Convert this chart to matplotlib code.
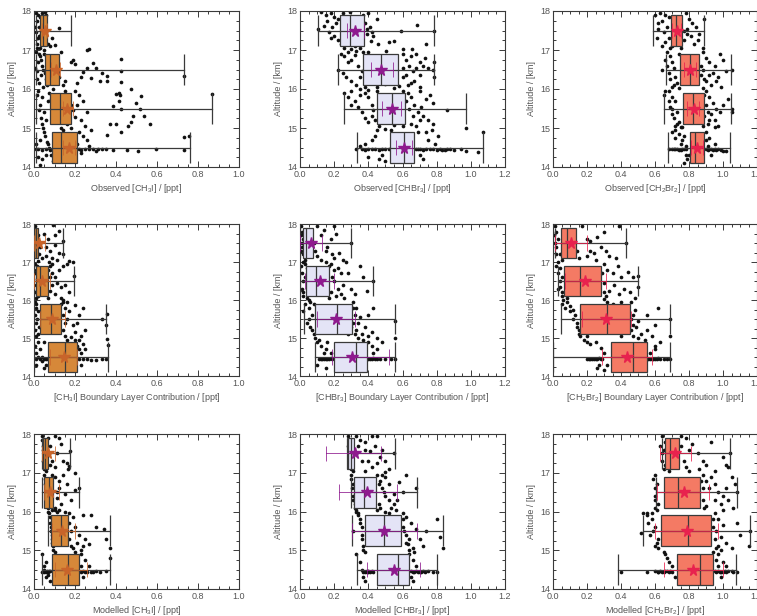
import matplotlib

matplotlib.use("Agg")
import matplotlib.pyplot as plt
from matplotlib.patches import Rectangle
from matplotlib.ticker import MultipleLocator

plt.rcParams["font.family"] = ["Liberation Sans", "DejaVu Sans"]
plt.rcParams["mathtext.fontset"] = "custom"
plt.rcParams["mathtext.rm"] = "Liberation Sans"
plt.rcParams["mathtext.it"] = "Liberation Sans"

# altitude bin centres (km)
ALT = [14.5, 15.5, 16.5, 17.5]

# box statistics per bin (order follows ALT): quartiles, whisker ends, mean, mean +/- spread
OBS_CH3I = dict(q25=[0.086, 0.076, 0.054, 0.030], med=[0.130, 0.127, 0.078, 0.045],
                q75=[0.211, 0.182, 0.124, 0.065], wlo=[0.01, 0.01, 0.01, 0.01],
                whi=[0.760, 0.867, 0.732, 0.180], mean=[0.170, 0.163, 0.105, 0.052],
                elo=[0.14, 0.14, 0.085, 0.04], ehi=[0.20, 0.19, 0.125, 0.065])
OBS_CHBR3 = dict(q25=[0.524, 0.449, 0.366, 0.233], med=[0.609, 0.538, 0.474, 0.293],
                 q75=[0.666, 0.613, 0.573, 0.372], wlo=[0.332, 0.257, 0.221, 0.105],
                 whi=[1.072, 0.973, 0.785, 0.785], mean=[0.610, 0.538, 0.474, 0.322],
                 elo=[0.56, 0.48, 0.415, 0.277], ehi=[0.653, 0.594, 0.545, 0.376])
OBS_CH2BR2 = dict(q25=[0.803, 0.764, 0.748, 0.693], med=[0.837, 0.823, 0.803, 0.724],
                  q75=[0.886, 0.886, 0.860, 0.758], wlo=[0.679, 0.655, 0.663, 0.587],
                  whi=[1.040, 1.047, 1.047, 0.890], mean=[0.846, 0.827, 0.807, 0.728],
                  elo=[0.81, 0.79, 0.77, 0.70], ehi=[0.88, 0.86, 0.84, 0.755])
BL_CH3I = dict(q25=[0.066, 0.028, 0.008, 0.0], med=[0.151, 0.085, 0.028, 0.008],
               q75=[0.212, 0.130, 0.069, 0.020], wlo=[0.0, 0.0, 0.0, 0.0],
               whi=[0.361, 0.353, 0.195, 0.143], mean=[0.146, 0.090, 0.041, 0.025],
               elo=[0.08, 0.03, 0.0, 0.0], ehi=[0.21, 0.15, 0.08, 0.055])
BL_CHBR3 = dict(q25=[0.198, 0.089, 0.036, 0.020], med=[0.326, 0.217, 0.095, 0.036],
                q75=[0.395, 0.306, 0.168, 0.075], wlo=[0.085, 0.026, 0.0, 0.0],
                whi=[0.554, 0.554, 0.425, 0.300], mean=[0.306, 0.212, 0.115, 0.063],
                elo=[0.19, 0.10, 0.03, 0.0], ehi=[0.52, 0.32, 0.20, 0.13])
BL_CH2BR2 = dict(q25=[0.341, 0.157, 0.063, 0.045], med=[0.472, 0.315, 0.157, 0.085],
                 q75=[0.551, 0.453, 0.281, 0.134], wlo=[0.0, 0.049, 0.03, 0.01],
                 whi=[0.689, 0.689, 0.502, 0.429], mean=[0.433, 0.311, 0.187, 0.104],
                 elo=[0.29, 0.17, 0.07, 0.01], ehi=[0.58, 0.46, 0.31, 0.20])
MOD_CH3I = dict(q25=[0.090, 0.085, 0.049, 0.044], med=[0.167, 0.130, 0.072, 0.055],
                q75=[0.220, 0.167, 0.094, 0.069], wlo=[0.041, 0.07, 0.04, 0.04],
                whi=[0.369, 0.373, 0.220, 0.176], mean=[0.163, 0.135, 0.077, 0.069],
                elo=[0.10, 0.09, 0.05, 0.04], ehi=[0.26, 0.20, 0.12, 0.10])
MOD_CHBR3 = dict(q25=[0.449, 0.380, 0.316, 0.277], med=[0.573, 0.494, 0.372, 0.297],
                 q75=[0.637, 0.589, 0.445, 0.316], wlo=[0.332, 0.306, 0.30, 0.28],
                 whi=[0.800, 0.840, 0.682, 0.554], mean=[0.550, 0.494, 0.390, 0.320],
                 elo=[0.39, 0.307, 0.228, 0.154], ehi=[0.70, 0.683, 0.57, 0.475])
MOD_CH2BR2 = dict(q25=[0.728, 0.634, 0.650, 0.656], med=[0.866, 0.797, 0.738, 0.689],
                  q75=[0.939, 0.929, 0.862, 0.744], wlo=[0.384, 0.528, 0.606, 0.64],
                  whi=[1.079, 1.161, 1.083, 1.040], mean=[0.823, 0.787, 0.768, 0.719],
                  elo=[0.65, 0.60, 0.61, 0.63], ehi=[1.00, 0.97, 0.915, 0.811])

# individual samples (mixing ratio ppt, altitude km)
PTS_OBS_CH3I = [
    (0.01, 17.95), (0.02, 17.9), (0.03, 17.85), (0.015, 17.75), (0.04, 17.7), (0.025, 17.6),
    (0.05, 17.55), (0.01, 17.45), (0.035, 17.4), (0.06, 17.35), (0.02, 17.3), (0.045, 17.2),
    (0.07, 17.15), (0.03, 17.05), (0.08, 17.1), (0.12, 17.57), (0.09, 17.3), (0.1, 17.12),
    (0.06, 17.9), (0.055, 17.98), (0.01, 16.95), (0.03, 16.85), (0.05, 16.9), (0.02, 16.7),
    (0.04, 16.6), (0.015, 16.45), (0.035, 16.35), (0.06, 16.25), (0.025, 16.15), (0.045, 16.05),
    (0.13, 16.95), (0.14, 16.1), (0.15, 16.2), (0.19, 16.75), (0.18, 16.69), (0.2, 16.63),
    (0.26, 17.0), (0.27, 17.02), (0.24, 16.44), (0.26, 16.55), (0.21, 16.15), (0.23, 16.3),
    (0.29, 16.66), (0.3, 16.55), (0.33, 16.42), (0.355, 16.33), (0.32, 16.21), (0.358, 16.2),
    (0.277, 16.27), (0.426, 16.77), (0.426, 16.47), (0.426, 16.19), (0.732, 16.33),
    (0.02, 15.95), (0.04, 15.8), (0.03, 15.6), (0.05, 15.4), (0.06, 15.2), (0.04, 15.1),
    (0.07, 15.7), (0.2, 15.95), (0.22, 15.85), (0.24, 15.7), (0.21, 15.6), (0.26, 15.4),
    (0.23, 15.2), (0.2, 15.28), (0.25, 15.05), (0.19, 15.45), (0.475, 16.0), (0.4, 15.88),
    (0.415, 15.9), (0.42, 15.85), (0.52, 15.82), (0.415, 15.69), (0.496, 15.63), (0.387, 15.57),
    (0.517, 15.49), (0.426, 15.49), (0.485, 15.32), (0.537, 15.3), (0.473, 15.15), (0.459, 15.06),
    (0.566, 15.09), (0.37, 15.1), (0.4, 15.1), (0.867, 15.88), (0.426, 14.89), (0.277, 14.94),
    (0.358, 14.81), (0.732, 14.77), (0.758, 14.79), (0.22, 14.9), (0.24, 14.8), (0.26, 14.7),
    (0.21, 14.6), (0.05, 14.9), (0.03, 14.7), (0.06, 14.3), (0.04, 14.2), (0.07, 14.6),
    (0.02, 14.45), (0.04, 14.43), (0.06, 14.46), (0.08, 14.44), (0.22, 14.45), (0.25, 14.46),
    (0.29, 14.47), (0.31, 14.45), (0.33, 14.46), (0.35, 14.45), (0.387, 14.44), (0.455, 14.43),
    (0.507, 14.42), (0.594, 14.45), (0.732, 14.44), (0.3, 14.42), (0.27, 14.55),
    (0.005, 17.6), (0.015, 17.15), (0.025, 16.9), (0.035, 16.75), (0.045, 16.5), (0.055, 16.4),
    (0.065, 16.1), (0.075, 15.9), (0.085, 15.75), (0.095, 15.65), (0.1, 15.5), (0.11, 15.35),
    (0.12, 15.2), (0.13, 15.0), (0.14, 14.95), (0.015, 15.85), (0.025, 15.45), (0.035, 15.25),
    (0.045, 15.0), (0.055, 14.8), (0.065, 14.65), (0.075, 14.5), (0.085, 14.3), (0.095, 14.15),
    (0.01, 14.6), (0.02, 14.25), (0.03, 14.05), (0.015, 16.25), (0.005, 16.55), (0.04, 17.95),
    (0.025, 17.35), (0.015, 17.05), (0.05, 17.0), (0.1, 14.45), (0.12, 14.46), (0.14, 14.44),
    (0.16, 14.45), (0.18, 14.46), (0.2, 14.44), (0.01, 14.47), (0.23, 14.43), (0.27, 14.45),
    (0.11, 16.5), (0.12, 16.3), (0.095, 16.0), (0.15, 15.95), (0.17, 15.8), (0.18, 15.6),
    (0.16, 15.1), (0.18, 15.0), (0.2, 14.7), (0.23, 14.35), (0.17, 14.3), (0.19, 14.2),
]
PTS_OBS_CHBR3 = [
    (0.12, 17.98), (0.15, 17.9), (0.18, 17.95), (0.2, 17.85), (0.16, 17.75), (0.14, 17.62),
    (0.103, 17.55), (0.19, 17.6), (0.21, 17.7), (0.17, 17.45), (0.2, 17.35), (0.22, 17.25),
    (0.24, 17.15), (0.26, 17.05), (0.18, 17.3), (0.4, 17.95), (0.41, 17.59), (0.45, 17.8),
    (0.59, 17.5), (0.683, 17.64), (0.39, 17.4), (0.416, 17.24), (0.455, 17.16), (0.52, 17.2),
    (0.55, 17.22), (0.505, 16.98), (0.737, 17.16), (0.653, 17.03), (0.785, 17.5), (0.32, 17.1),
    (0.35, 17.05), (0.43, 17.35), (0.37, 17.9), (0.29, 17.98), (0.24, 16.9), (0.26, 16.85),
    (0.28, 16.7), (0.3, 16.75), (0.32, 16.88), (0.34, 16.6), (0.22, 16.5), (0.25, 16.4),
    (0.27, 16.3), (0.3, 16.2), (0.33, 16.1), (0.35, 16.3), (0.36, 16.45), (0.6, 16.9),
    (0.62, 16.75), (0.64, 16.6), (0.66, 16.45), (0.68, 16.55), (0.7, 16.35), (0.73, 16.8),
    (0.75, 16.55), (0.78, 16.5), (0.785, 16.7), (0.785, 16.3), (0.67, 16.2), (0.63, 16.1),
    (0.6, 16.3), (0.45, 16.05), (0.55, 16.02), (0.5, 16.12), (0.257, 15.9), (0.28, 15.8),
    (0.3, 15.6), (0.32, 15.7), (0.34, 15.55), (0.36, 15.4), (0.38, 15.25), (0.4, 15.15),
    (0.42, 15.3), (0.3, 15.95), (0.35, 15.85), (0.38, 15.9), (0.63, 15.9), (0.65, 15.8),
    (0.67, 15.6), (0.69, 15.4), (0.71, 15.55), (0.74, 15.75), (0.76, 15.85), (0.78, 15.65),
    (0.7, 15.2), (0.72, 15.3), (0.69, 14.9), (0.81, 14.8), (0.863, 15.45), (0.974, 15.0),
    (0.6, 15.05), (0.55, 15.08), (0.33, 14.46), (0.36, 14.45), (0.38, 14.44), (0.4, 14.46),
    (0.42, 14.45), (0.44, 14.47), (0.46, 14.44), (0.48, 14.45), (0.5, 14.46), (0.7, 14.46),
    (0.72, 14.44), (0.74, 14.45), (0.76, 14.47), (0.78, 14.45), (0.8, 14.43), (0.83, 14.44),
    (0.86, 14.46), (0.9, 14.43), (0.97, 14.4), (1.04, 14.38), (1.073, 14.9), (0.46, 14.2),
    (0.48, 14.3), (0.5, 14.15), (0.42, 14.7), (0.44, 14.8), (0.75, 14.7), (0.79, 14.6),
    (0.22, 17.8), (0.25, 17.95), (0.27, 17.65), (0.38, 17.7), (0.39, 17.55), (0.42, 17.45),
    (0.36, 17.2), (0.3, 17.02), (0.28, 16.95), (0.33, 16.98), (0.37, 16.95), (0.4, 16.95),
    (0.6, 17.02), (0.65, 16.85), (0.68, 16.9), (0.7, 16.7), (0.72, 16.6), (0.6, 16.55),
    (0.62, 16.35), (0.65, 16.15), (0.7, 16.05), (0.58, 16.08), (0.38, 16.05), (0.35, 16.0),
    (0.4, 15.98), (0.45, 15.95), (0.6, 15.95), (0.7, 15.95), (0.62, 15.7), (0.64, 15.5),
    (0.66, 15.3), (0.65, 15.1), (0.68, 15.05), (0.75, 15.2), (0.78, 15.1), (0.4, 15.8),
    (0.42, 15.6), (0.43, 15.45), (0.44, 15.2), (0.46, 15.05), (0.5, 14.98), (0.53, 14.95),
    (0.45, 14.95), (0.38, 14.6), (0.4, 14.25), (0.35, 14.55), (0.52, 14.46), (0.54, 14.45),
    (0.68, 14.45), (0.69, 14.47), (0.82, 14.47), (0.85, 14.43), (0.88, 14.45), (0.94, 14.46),
    (0.7, 14.3), (0.72, 14.2), (0.74, 14.9), (0.77, 14.95),
]
PTS_OBS_CH2BR2 = [
    (0.63, 17.95), (0.66, 17.9), (0.68, 17.85), (0.64, 17.75), (0.67, 17.6), (0.65, 17.45),
    (0.62, 17.55), (0.68, 17.3), (0.66, 17.2), (0.7, 17.1), (0.78, 17.95), (0.8, 17.8),
    (0.82, 17.7), (0.79, 17.55), (0.84, 17.6), (0.81, 17.35), (0.77, 17.25), (0.83, 17.15),
    (0.86, 17.4), (0.89, 17.8), (0.69, 17.05), (0.75, 17.05), (0.67, 16.95), (0.69, 16.85),
    (0.7, 16.7), (0.71, 16.55), (0.68, 16.4), (0.72, 16.3), (0.73, 16.15), (0.7, 16.05),
    (0.74, 16.9), (0.88, 16.95), (0.9, 16.8), (0.92, 16.7), (0.95, 16.6), (0.98, 16.9),
    (1.0, 16.75), (0.94, 16.4), (0.97, 16.3), (1.02, 16.45), (1.05, 16.5), (0.9, 16.2),
    (0.93, 16.1), (0.99, 16.05), (0.87, 16.35), (0.64, 16.5), (0.655, 15.85), (0.68, 15.95),
    (0.7, 15.8), (0.72, 15.7), (0.69, 15.55), (0.73, 15.4), (0.71, 15.25), (0.74, 15.15),
    (0.72, 15.05), (0.9, 15.95), (0.92, 15.8), (0.94, 15.65), (0.96, 15.5), (0.93, 15.35),
    (0.95, 15.2), (0.98, 15.4), (1.0, 15.6), (1.03, 15.75), (1.05, 15.5), (1.05, 15.4),
    (0.91, 15.1), (0.97, 15.05), (0.76, 15.02), (0.88, 15.05), (0.7, 14.9), (0.72, 14.75),
    (0.75, 14.6), (0.77, 14.8), (0.9, 14.9), (0.92, 14.75), (0.95, 14.6), (0.68, 14.46),
    (0.7, 14.45), (0.72, 14.47), (0.74, 14.44), (0.76, 14.46), (0.78, 14.45), (0.9, 14.46),
    (0.92, 14.45), (0.94, 14.44), (0.97, 14.46), (1.0, 14.4), (1.02, 14.42), (0.79, 14.2),
    (0.8, 14.3), (0.93, 14.3),
    (0.6, 17.9), (0.62, 17.7), (0.61, 17.3), (0.64, 17.1), (0.77, 17.5), (0.79, 17.4),
    (0.85, 17.25), (0.88, 17.05), (0.66, 16.75), (0.67, 16.6), (0.69, 16.25), (0.71, 16.1),
    (0.74, 16.02), (0.87, 16.6), (0.88, 16.5), (0.89, 16.25), (0.92, 16.35), (0.96, 16.2),
    (0.88, 16.02), (0.66, 15.95), (0.68, 15.7), (0.7, 15.5), (0.7, 15.35), (0.73, 15.1),
    (0.75, 15.03), (0.89, 15.85), (0.9, 15.6), (0.91, 15.4), (0.92, 15.2), (0.89, 15.3),
    (0.95, 15.02), (0.72, 14.95), (0.74, 14.85), (0.76, 14.7), (0.78, 14.55), (0.9, 14.7),
    (0.91, 14.55), (0.71, 14.46), (0.73, 14.45), (0.75, 14.44), (0.77, 14.47), (0.91, 14.44),
    (0.93, 14.47), (0.95, 14.45), (0.96, 14.43), (0.99, 14.44), (0.78, 14.3), (0.77, 14.1),
]
PTS_BL_CH3I = [
    (0.005, 17.95), (0.01, 17.8), (0.02, 17.7), (0.015, 17.55), (0.03, 17.4), (0.01, 17.3),
    (0.025, 17.2), (0.04, 17.1), (0.02, 17.02), (0.05, 17.75), (0.094, 17.97), (0.123, 17.82),
    (0.07, 17.6), (0.1, 17.45), (0.08, 17.3), (0.12, 17.25), (0.14, 17.22), (0.17, 17.02),
    (0.16, 16.95), (0.19, 17.0), (0.06, 17.15), (0.09, 17.1), (0.143, 17.55), (0.005, 16.95),
    (0.01, 16.8), (0.02, 16.6), (0.01, 16.4), (0.03, 16.25), (0.02, 16.1), (0.08, 16.9),
    (0.09, 16.7), (0.1, 16.6), (0.12, 16.8), (0.11, 16.45), (0.13, 16.35), (0.08, 16.25),
    (0.1, 16.15), (0.07, 16.05), (0.15, 16.4), (0.14, 16.9), (0.195, 16.62), (0.17, 16.2),
    (0.06, 16.5), (0.01, 15.9), (0.02, 15.7), (0.015, 15.5), (0.025, 15.3), (0.02, 15.1),
    (0.14, 15.95), (0.15, 15.8), (0.17, 15.7), (0.2, 15.88), (0.16, 15.5), (0.19, 15.35),
    (0.22, 15.6), (0.24, 15.8), (0.2, 15.15), (0.23, 15.05), (0.25, 15.2), (0.18, 15.02),
    (0.33, 15.5), (0.356, 15.62), (0.35, 15.33), (0.21, 15.4), (0.02, 14.9), (0.03, 14.7),
    (0.01, 14.3), (0.05, 14.2), (0.356, 14.98), (0.36, 14.82), (0.22, 14.95), (0.24, 14.85),
    (0.25, 14.7), (0.23, 14.6), (0.03, 14.45), (0.05, 14.44), (0.06, 14.46), (0.07, 14.45),
    (0.22, 14.46), (0.24, 14.45), (0.26, 14.44), (0.28, 14.42), (0.3, 14.43), (0.33, 14.45),
    (0.35, 14.46), (0.04, 14.5), (0.04, 14.4),
    (0.005, 17.5), (0.01, 17.6), (0.005, 17.15), (0.015, 16.9), (0.005, 16.7), (0.015, 16.55),
    (0.005, 16.2), (0.01, 16.05), (0.005, 15.95), (0.01, 15.8), (0.005, 15.6), (0.01, 15.4),
    (0.005, 15.2), (0.01, 15.05), (0.005, 14.8), (0.01, 14.6), (0.02, 14.5), (0.01, 14.45),
    (0.08, 14.45), (0.1, 14.46), (0.12, 14.44), (0.14, 14.45), (0.16, 14.46), (0.18, 14.45),
    (0.2, 14.44), (0.07, 16.8), (0.08, 16.6), (0.09, 16.4), (0.075, 17.0), (0.09, 16.95),
    (0.13, 16.05), (0.14, 16.0), (0.16, 15.95), (0.13, 15.9), (0.14, 15.6), (0.15, 15.4),
    (0.14, 15.2), (0.15, 15.05), (0.16, 14.95), (0.2, 14.95), (0.21, 14.8), (0.22, 14.7),
    (0.23, 14.3), (0.06, 14.3), (0.05, 14.9), (0.1, 17.7), (0.06, 17.4), (0.11, 17.05),
]
PTS_BL_CHBR3 = [
    (0.005, 17.95), (0.01, 17.8), (0.02, 17.6), (0.01, 17.4), (0.02, 17.2), (0.03, 17.05),
    (0.1, 17.95), (0.12, 17.7), (0.14, 17.85), (0.2, 17.95), (0.18, 17.6), (0.16, 17.4),
    (0.15, 17.3), (0.19, 17.2), (0.2, 17.1), (0.23, 17.25), (0.25, 17.05), (0.27, 17.0),
    (0.3, 17.5), (0.1, 17.15), (0.21, 17.75), (0.005, 16.9), (0.01, 16.7), (0.02, 16.5),
    (0.01, 16.3), (0.02, 16.1), (0.18, 16.95), (0.2, 16.8), (0.22, 16.85), (0.24, 16.7),
    (0.2, 16.5), (0.25, 16.4), (0.22, 16.3), (0.24, 16.15), (0.26, 16.05), (0.3, 16.3),
    (0.32, 16.15), (0.35, 16.9), (0.37, 16.6), (0.425, 16.5), (0.39, 16.25), (0.28, 16.7),
    (0.03, 15.9), (0.05, 15.8), (0.07, 15.6), (0.04, 15.4), (0.06, 15.3), (0.08, 15.1),
    (0.31, 15.95), (0.33, 15.8), (0.32, 15.6), (0.34, 15.4), (0.33, 15.2), (0.36, 15.1),
    (0.38, 15.3), (0.4, 15.05), (0.42, 15.15), (0.45, 15.0), (0.4, 15.6), (0.43, 15.8),
    (0.554, 15.45), (0.554, 15.0), (0.35, 15.55), (0.28, 15.1), (0.1, 14.9), (0.12, 14.8),
    (0.15, 14.7), (0.18, 14.6), (0.12, 14.46), (0.14, 14.45), (0.15, 14.44), (0.16, 14.46),
    (0.17, 14.45), (0.4, 14.46), (0.42, 14.44), (0.44, 14.45), (0.5, 14.46), (0.53, 14.45),
    (0.554, 14.45), (0.15, 14.2), (0.1, 14.3), (0.45, 14.7), (0.48, 14.9),
    (0.005, 17.7), (0.01, 17.5), (0.005, 17.3), (0.02, 17.0), (0.03, 16.95), (0.04, 16.85),
    (0.03, 16.6), (0.02, 16.2), (0.04, 16.05), (0.05, 16.0), (0.06, 15.95), (0.08, 15.9),
    (0.02, 15.7), (0.05, 15.5), (0.07, 15.2), (0.09, 15.0), (0.11, 14.95), (0.08, 17.5),
    (0.09, 17.3), (0.12, 17.05), (0.15, 17.0), (0.17, 16.9), (0.19, 16.6), (0.18, 16.2),
    (0.17, 16.05), (0.21, 16.1), (0.31, 15.8), (0.31, 15.4), (0.32, 15.1), (0.34, 15.0),
    (0.37, 14.95), (0.3, 15.3), (0.13, 14.45), (0.11, 14.44), (0.18, 14.47), (0.19, 14.45),
    (0.41, 14.45), (0.43, 14.47), (0.45, 14.44), (0.47, 14.46), (0.16, 14.9), (0.14, 14.6),
    (0.4, 14.9), (0.42, 14.8), (0.43, 14.6),
]
PTS_BL_CH2BR2 = [
    (0.01, 17.95), (0.02, 17.8), (0.03, 17.6), (0.02, 17.4), (0.04, 17.2), (0.05, 17.05),
    (0.17, 17.95), (0.2, 17.6), (0.22, 17.55), (0.26, 17.65), (0.3, 17.8), (0.28, 17.4),
    (0.31, 17.3), (0.24, 17.25), (0.2, 17.15), (0.33, 17.15), (0.37, 17.1), (0.39, 17.95),
    (0.43, 17.5), (0.25, 17.05), (0.15, 17.1), (0.02, 16.9), (0.03, 16.7), (0.04, 16.5),
    (0.03, 16.3), (0.05, 16.1), (0.3, 16.95), (0.32, 16.8), (0.35, 16.7), (0.38, 16.9),
    (0.4, 16.6), (0.44, 16.75), (0.47, 16.6), (0.5, 16.62), (0.36, 16.4), (0.42, 16.3),
    (0.45, 16.2), (0.48, 16.05), (0.39, 16.15), (0.33, 16.25), (0.31, 16.1), (0.5, 16.35),
    (0.08, 16.05), (0.05, 15.9), (0.07, 15.8), (0.1, 15.7), (0.12, 15.5), (0.14, 15.3),
    (0.15, 15.1), (0.46, 15.95), (0.48, 15.75), (0.47, 15.6), (0.5, 15.45), (0.49, 15.3),
    (0.52, 15.1), (0.55, 15.2), (0.58, 15.05), (0.6, 15.35), (0.55, 15.6), (0.62, 15.8),
    (0.689, 15.5), (0.689, 15.05), (0.4, 15.05), (0.2, 15.05), (0.25, 14.9), (0.28, 14.75),
    (0.3, 14.6), (0.32, 14.3), (0.3, 14.15), (0.2, 14.46), (0.22, 14.45), (0.24, 14.44),
    (0.26, 14.46), (0.28, 14.45), (0.56, 14.46), (0.58, 14.44), (0.6, 14.45), (0.62, 14.47),
    (0.65, 14.46), (0.689, 14.45), (0.6, 14.8), (0.63, 14.9), (0.57, 14.6),
    (0.005, 17.7), (0.01, 17.5), (0.02, 17.2), (0.03, 17.0), (0.04, 16.85), (0.05, 16.6),
    (0.04, 16.35), (0.05, 16.2), (0.06, 16.0), (0.08, 15.95), (0.1, 15.85), (0.12, 15.75),
    (0.13, 15.6), (0.14, 15.4), (0.15, 15.2), (0.16, 15.05), (0.18, 14.95), (0.2, 14.9),
    (0.22, 14.85), (0.29, 16.7), (0.3, 16.45), (0.3, 16.2), (0.3, 16.02), (0.32, 15.95),
    (0.35, 15.9), (0.4, 15.95), (0.46, 15.5), (0.47, 15.35), (0.46, 15.2), (0.47, 15.05),
    (0.5, 15.0), (0.54, 14.95), (0.21, 14.45), (0.23, 14.44), (0.25, 14.46), (0.27, 14.47),
    (0.29, 14.44), (0.57, 14.45), (0.59, 14.46), (0.61, 14.44), (0.63, 14.45), (0.67, 14.44),
    (0.27, 14.3), (0.26, 14.2), (0.6, 14.7), (0.14, 17.3), (0.22, 17.3),
]
PTS_MOD_CH3I = [
    (0.04, 17.95), (0.05, 17.8), (0.045, 17.6), (0.05, 17.4), (0.055, 17.2), (0.06, 17.05),
    (0.07, 17.9), (0.08, 17.7), (0.1, 17.95), (0.12, 17.9), (0.13, 17.75), (0.11, 17.5),
    (0.14, 17.3), (0.16, 17.25), (0.176, 17.55), (0.165, 17.1), (0.17, 17.18), (0.09, 17.3),
    (0.1, 17.15), (0.05, 16.95), (0.055, 16.7), (0.06, 16.5), (0.065, 16.3), (0.07, 16.1),
    (0.1, 16.9), (0.12, 16.8), (0.14, 16.95), (0.12, 16.6), (0.15, 16.45), (0.11, 16.35),
    (0.13, 16.2), (0.1, 16.05), (0.2, 16.55), (0.22, 16.6), (0.2, 17.0), (0.16, 16.7),
    (0.18, 16.3), (0.075, 15.95), (0.08, 15.7), (0.085, 15.5), (0.09, 15.3), (0.095, 15.1),
    (0.17, 15.95), (0.19, 15.85), (0.24, 15.9), (0.28, 15.9), (0.2, 15.6), (0.22, 15.4),
    (0.25, 15.3), (0.24, 15.1), (0.27, 15.15), (0.21, 15.2), (0.23, 15.0), (0.34, 15.55),
    (0.35, 15.3), (0.37, 15.05), (0.3, 15.6), (0.04, 14.9), (0.05, 14.6), (0.06, 14.3),
    (0.08, 14.2), (0.23, 14.9), (0.25, 14.75), (0.27, 14.6), (0.26, 14.45), (0.28, 14.44),
    (0.3, 14.46), (0.32, 14.45), (0.35, 14.46), (0.37, 14.8), (0.06, 14.45), (0.07, 14.44),
    (0.08, 14.46), (0.05, 14.5), (0.07, 14.35),
    (0.04, 17.85), (0.045, 17.7), (0.05, 17.5), (0.045, 17.3), (0.05, 17.1), (0.055, 16.85),
    (0.06, 16.6), (0.065, 16.4), (0.065, 16.2), (0.07, 16.0), (0.08, 15.85), (0.085, 15.6),
    (0.09, 15.4), (0.09, 15.2), (0.095, 15.0), (0.1, 14.95), (0.09, 16.05), (0.1, 16.1),
    (0.11, 16.0), (0.12, 16.05), (0.15, 16.0), (0.17, 15.7), (0.18, 15.5), (0.17, 15.3),
    (0.18, 15.1), (0.19, 15.05), (0.2, 14.95), (0.06, 14.7), (0.05, 14.45), (0.04, 14.44),
    (0.065, 14.47), (0.075, 14.46), (0.23, 14.45), (0.24, 14.47), (0.25, 14.44), (0.29, 14.45),
    (0.23, 14.6), (0.24, 14.3), (0.07, 17.5), (0.08, 17.2), (0.09, 16.95), (0.11, 16.5),
]
PTS_MOD_CHBR3 = [
    (0.28, 17.95), (0.29, 17.8), (0.3, 17.6), (0.29, 17.4), (0.3, 17.2), (0.31, 17.05),
    (0.33, 17.95), (0.34, 17.7), (0.35, 17.85), (0.38, 17.6), (0.41, 17.55), (0.44, 17.7),
    (0.45, 17.95), (0.4, 17.3), (0.42, 17.15), (0.45, 17.25), (0.47, 17.4), (0.5, 17.3),
    (0.52, 17.1), (0.55, 17.5), (0.5, 17.02), (0.38, 17.05), (0.3, 16.95), (0.31, 16.7),
    (0.31, 16.4), (0.32, 16.2), (0.33, 16.05), (0.45, 16.95), (0.47, 16.8), (0.5, 16.9),
    (0.52, 16.7), (0.48, 16.6), (0.5, 16.4), (0.52, 16.3), (0.55, 16.2), (0.53, 16.1),
    (0.56, 16.05), (0.6, 16.5), (0.68, 16.6), (0.62, 16.95), (0.58, 16.75), (0.46, 16.2),
    (0.34, 15.95), (0.35, 15.7), (0.36, 15.4), (0.37, 15.1), (0.6, 15.95), (0.62, 15.85),
    (0.65, 15.7), (0.6, 15.6), (0.62, 15.4), (0.64, 15.3), (0.63, 15.15), (0.66, 15.05),
    (0.7, 15.3), (0.72, 15.1), (0.8, 15.8), (0.82, 15.35), (0.84, 15.05), (0.74, 15.5),
    (0.31, 15.5), (0.68, 15.55), (0.33, 14.9), (0.35, 14.7), (0.37, 14.3), (0.38, 14.2),
    (0.4, 14.47), (0.38, 14.45), (0.39, 14.43), (0.41, 14.44), (0.42, 14.46), (0.36, 14.5),
    (0.64, 14.9), (0.66, 14.75), (0.68, 14.6), (0.65, 14.46), (0.67, 14.44), (0.7, 14.45),
    (0.72, 14.47), (0.75, 14.46), (0.8, 14.45), (0.78, 14.44),
    (0.28, 17.7), (0.285, 17.5), (0.29, 17.3), (0.3, 17.1), (0.3, 16.85), (0.305, 16.6),
    (0.31, 16.3), (0.32, 16.1), (0.33, 16.0), (0.34, 15.9), (0.35, 15.8), (0.36, 15.6),
    (0.36, 15.3), (0.37, 15.0), (0.38, 14.95), (0.45, 16.05), (0.47, 16.1), (0.5, 16.0),
    (0.52, 15.95), (0.6, 15.8), (0.61, 15.5), (0.62, 15.2), (0.64, 15.0), (0.67, 14.95),
    (0.46, 16.7), (0.48, 16.95), (0.49, 16.5), (0.55, 16.45), (0.57, 16.3), (0.37, 14.45),
    (0.39, 14.46), (0.4, 14.44), (0.43, 14.45), (0.66, 14.45), (0.68, 14.46), (0.69, 14.44),
    (0.71, 14.45), (0.73, 14.44), (0.65, 14.3), (0.66, 14.2), (0.36, 17.3), (0.38, 17.8),
    (0.42, 17.95), (0.48, 17.6),
]
PTS_MOD_CH2BR2 = [
    (0.64, 17.95), (0.66, 17.8), (0.65, 17.6), (0.67, 17.4), (0.66, 17.2), (0.68, 17.05),
    (0.75, 17.95), (0.78, 17.9), (0.8, 17.6), (0.82, 17.75), (0.85, 17.5), (0.88, 17.3),
    (0.9, 17.2), (0.95, 17.05), (1.0, 17.4), (1.04, 17.5), (1.02, 17.2), (1.03, 17.15),
    (0.93, 17.8), (0.8, 17.05), (0.86, 17.1), (0.6, 16.95), (0.61, 16.7), (0.6, 16.4),
    (0.62, 16.2), (0.61, 16.05), (0.88, 16.95), (0.9, 16.8), (0.93, 16.9), (0.95, 16.7),
    (0.92, 16.6), (0.97, 16.5), (0.95, 16.3), (0.99, 16.2), (1.02, 16.6), (1.06, 16.1),
    (1.08, 16.5), (1.0, 16.05), (0.9, 16.15), (1.05, 16.9), (0.53, 15.95), (0.55, 15.9),
    (0.58, 15.8), (0.6, 15.6), (0.57, 15.4), (0.62, 15.3), (0.6, 15.1), (0.95, 15.95),
    (0.97, 15.8), (1.0, 15.65), (0.96, 15.5), (0.99, 15.35), (1.02, 15.2), (0.97, 15.1),
    (1.05, 15.05), (1.1, 15.4), (1.16, 15.5), (1.15, 15.1), (1.08, 15.7), (0.52, 15.45),
    (0.65, 14.95), (0.67, 14.8), (0.7, 14.6), (0.72, 14.3), (0.6, 14.46), (0.62, 14.44),
    (0.64, 14.45), (0.66, 14.47), (0.68, 14.45), (0.7, 14.44), (0.95, 14.46), (0.98, 14.45),
    (1.0, 14.44), (1.03, 14.46), (1.06, 14.45), (1.08, 14.44), (0.4, 14.45), (0.97, 14.9),
    (1.0, 14.7), (1.02, 14.6), (0.55, 14.45),
    (0.63, 17.7), (0.64, 17.5), (0.64, 17.3), (0.65, 17.1), (0.59, 16.85), (0.6, 16.6),
    (0.6, 16.3), (0.6, 16.1), (0.55, 15.95), (0.58, 15.95), (0.56, 15.7), (0.59, 15.5),
    (0.61, 15.2), (0.62, 15.05), (0.75, 17.7), (0.77, 17.3), (0.78, 17.15), (0.87, 16.8),
    (0.88, 16.6), (0.88, 16.3), (0.89, 16.1), (0.94, 15.8), (0.94, 15.6), (0.95, 15.3),
    (0.96, 15.05), (0.99, 15.0), (0.94, 14.95), (0.96, 14.75), (0.97, 14.6), (0.99, 14.3),
    (0.62, 14.45), (0.63, 14.47), (0.65, 14.44), (0.67, 14.46), (0.69, 14.47), (0.96, 14.44),
    (0.97, 14.47), (0.99, 14.45), (1.01, 14.46), (1.02, 14.44), (1.05, 14.47), (0.66, 14.9),
    (0.68, 14.7), (1.0, 16.4), (1.03, 16.3), (1.07, 16.7),
]

XLABELS = [
    [r"Observed [CH$_3$I] / [ppt]", r"Observed [CHBr$_3$] / [ppt]", r"Observed [CH$_2$Br$_2$] / [ppt]"],
    [r"[CH$_3$I] Boundary Layer Contribution / [ppt]", r"[CHBr$_3$] Boundary Layer Contribution / [ppt]",
     r"[CH$_2$Br$_2$] Boundary Layer Contribution / [ppt]"],
    [r"Modelled [CH$_3$I] / [ppt]", r"Modelled [CHBr$_3$] / [ppt]", r"Modelled [CH$_2$Br$_2$] / [ppt]"],
]
STATS = [[OBS_CH3I, OBS_CHBR3, OBS_CH2BR2], [BL_CH3I, BL_CHBR3, BL_CH2BR2],
         [MOD_CH3I, MOD_CHBR3, MOD_CH2BR2]]
POINTS = [[PTS_OBS_CH3I, PTS_OBS_CHBR3, PTS_OBS_CH2BR2], [PTS_BL_CH3I, PTS_BL_CHBR3, PTS_BL_CH2BR2],
          [PTS_MOD_CH3I, PTS_MOD_CHBR3, PTS_MOD_CH2BR2]]
XMAX = [1.0, 1.2, 1.2]

BOX_FACE = ["#d68839", "#e4e4f6", "#f47a64"]
STAR_COL = ["#c8642a", "#8e1a8e", "#e8224e"]
EDGE = "#3a3a3a"
TEXT = "#555555"

W, H = 757, 616
COL_LEFT = [34, 300, 553]
ROW_TOP = [11, 224, 434]
ROW_BOTTOM = [167, 376, 589]
AX_W = 205
HALF = 0.4


def draw_panel(ax, pts, st, face, star, xmax, xlabel):
    xs = [p[0] for p in pts]
    ys = [p[1] for p in pts]
    ax.scatter(xs, ys, s=7, color="#111111", linewidths=0, zorder=2)
    for i, alt in enumerate(ALT):
        ax.add_patch(Rectangle((st["q25"][i], alt - HALF), st["q75"][i] - st["q25"][i], 2 * HALF,
                               facecolor=face, edgecolor=EDGE, lw=0.9, zorder=3))
        ax.plot([st["wlo"][i], st["whi"][i]], [alt, alt], color=EDGE, lw=0.9, zorder=4)
        ax.vlines([st["wlo"][i], st["whi"][i]], alt - HALF, alt + HALF, color=EDGE, lw=0.9, zorder=4)
        ax.vlines(st["med"][i], alt - HALF, alt + HALF, color=EDGE, lw=0.9, zorder=4)
        ax.plot([st["elo"][i], st["ehi"][i]], [alt, alt], color=star, lw=0.7, alpha=0.8, zorder=5)
        ax.vlines([st["elo"][i], st["ehi"][i]], alt - 0.2, alt + 0.2, color=star, lw=0.7, alpha=0.8, zorder=5)
        ax.plot(st["mean"][i], alt, marker="*", ms=8.5, color=star, mec=star, zorder=6)

    ax.set_xlim(0, xmax)
    ax.set_ylim(14, 18)
    ax.xaxis.set_major_locator(MultipleLocator(0.2))
    ax.xaxis.set_minor_locator(MultipleLocator(0.05))
    ax.yaxis.set_major_locator(MultipleLocator(1))
    ax.yaxis.set_minor_locator(MultipleLocator(0.25))
    ax.xaxis.set_major_formatter(plt.FuncFormatter(lambda v, _: f"{v:.1f}"))
    ax.tick_params(which="both", direction="in", top=True, right=True, colors=EDGE,
                   labelcolor=TEXT, labelsize=6.5, width=0.7, pad=2)
    ax.tick_params(which="major", length=4)
    ax.tick_params(which="minor", length=2)
    for spine in ax.spines.values():
        spine.set_color(EDGE)
        spine.set_linewidth(0.8)
    ax.set_xlabel(xlabel, fontsize=6.5, color=TEXT, labelpad=2)
    ax.set_ylabel("Altitude / [km]", fontsize=6.5, color=TEXT, labelpad=3)


fig = plt.figure(figsize=(W / 100, H / 100), dpi=100)
for r in range(3):
    for c in range(3):
        left = COL_LEFT[c]
        width = min(AX_W, W - left)
        ax = fig.add_axes([left / W, 1 - ROW_BOTTOM[r] / H, width / W, (ROW_BOTTOM[r] - ROW_TOP[r]) / H])
        draw_panel(ax, POINTS[r][c], STATS[r][c], BOX_FACE[c], STAR_COL[c], XMAX[c], XLABELS[r][c])

fig.savefig("out.png", dpi=100)
